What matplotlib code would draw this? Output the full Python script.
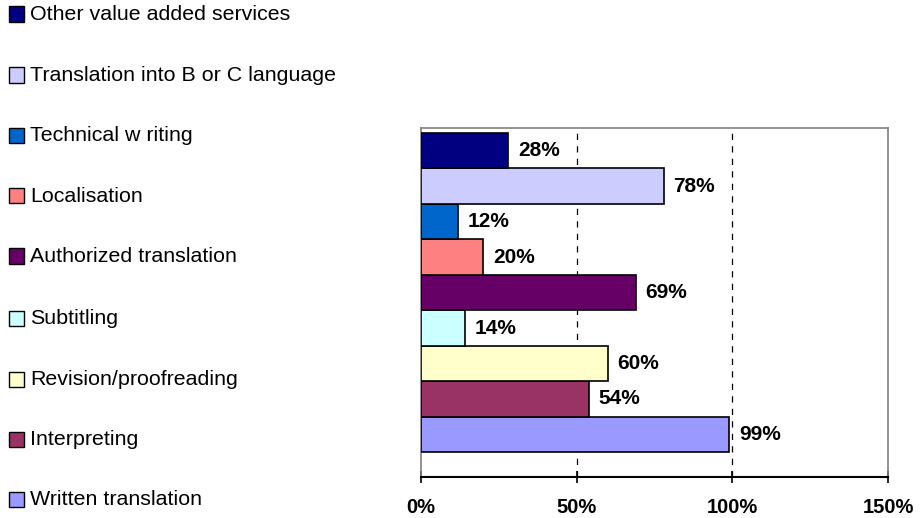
import matplotlib
matplotlib.use("Agg")
import matplotlib.pyplot as plt
from matplotlib.patches import Rectangle
from matplotlib.ticker import FuncFormatter

plt.rcParams['font.family'] = ['Liberation Sans', 'DejaVu Sans']

# Services, bottom to top
services = [
    "Written translation",
    "Interpreting",
    "Revision/proofreading",
    "Subtitling",
    "Authorized translation",
    "Localisation",
    "Technical w riting",
    "Translation into B or C language",
    "Other value added services",
]
shares = [99, 54, 60, 14, 69, 20, 12, 78, 28]
colors = [
    "#9999FF", "#993366", "#FFFFCC", "#CCFFFF", "#660066",
    "#FF8080", "#0066CC", "#CCCCFF", "#000080",
]
x_ticks = [0, 50, 100, 150]

W, H = 924, 518
fig = plt.figure(figsize=(W / 100, H / 100), dpi=100)
ax = fig.add_axes([421 / W, 1 - 477 / H, (888 - 421) / W, (477 - 128) / H])

pos = list(range(len(services)))
ax.barh(pos, shares, height=1.0, color=colors, edgecolor="black", linewidth=1.2, zorder=3)

for p, v in zip(pos, shares):
    ax.annotate(f"{v}%", xy=(v, p), xytext=(7, 0), textcoords="offset points",
                ha="left", va="center", fontsize=15, fontweight="bold", zorder=4)

ax.set_xlim(0, 150)
ax.set_ylim(-1.2, 8.64)
ax.set_xticks(x_ticks)
ax.xaxis.set_major_formatter(FuncFormatter(lambda v, _: f"{int(v)}%"))
for lbl in ax.get_xticklabels():
    lbl.set_fontweight("bold")
    lbl.set_fontsize(14.5)
ax.tick_params(axis="x", direction="inout", length=8, width=1.2, color="black", pad=11)
ax.set_yticks([])

for xv in x_ticks[1:-1]:
    ax.axvline(xv, color="black", linestyle=(0, (5, 5)), linewidth=0.9, zorder=1)

for side in ("left", "top", "right"):
    ax.spines[side].set_color("#808080")
    ax.spines[side].set_linewidth(1.2)
ax.spines["bottom"].set_color("black")
ax.spines["bottom"].set_linewidth(1.5)

# Legend column on the left, top entry first
legend_y = [14, 75, 135, 196, 256, 318, 379, 439, 499]
for name, col, yc in zip(reversed(services), reversed(colors), legend_y):
    fig.add_artist(Rectangle((9 / W, 1 - (yc + 7.5) / H), 15 / W, 15 / H,
                             transform=fig.transFigure, facecolor=col,
                             edgecolor="black", linewidth=1.0))
    fig.text(30 / W, 1 - (yc + 0.5) / H, name, ha="left", va="center", fontsize=15.4)

fig.savefig("out.png", dpi=100)
